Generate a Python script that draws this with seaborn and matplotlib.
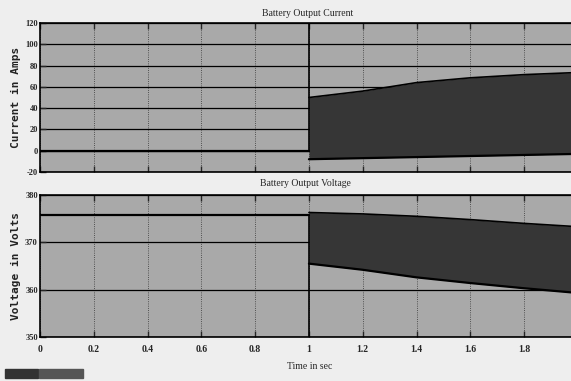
import numpy as np
import pandas as pd
import matplotlib.pyplot as plt
import seaborn as sns
from matplotlib.patches import Rectangle

# values
time_flat = [0.0, 1.0]
current_flat = [0.0, 0.0]
voltage_flat = [375.8, 375.8]

# switching spike at t = 1 s
spike_time = [1.0, 1.0]
current_spike = [0.0, 125.0]
voltage_spike = [375.8, 345.0]

# envelope of the fast oscillation after t = 1 s
band_time = [1.0, 1.2, 1.4, 1.6, 1.8, 2.0]
current_upper = [50.0, 56.0, 64.0, 68.5, 71.5, 73.5]
current_lower = [-8.0, -7.0, -6.0, -5.0, -4.0, -3.0]
voltage_upper = [376.3, 376.0, 375.5, 374.8, 374.0, 373.3]
voltage_lower = [365.5, 364.2, 362.6, 361.4, 360.3, 359.3]

x_ticks = [0, 0.2, 0.4, 0.6, 0.8, 1, 1.2, 1.4, 1.6, 1.8]
x_tick_labels = ['0', '0.2', '0.4', '0.6', '0.8', '1', '1.2', '1.4', '1.6', '1.8']
current_ticks = [-20, 0, 20, 40, 60, 80, 100, 120]
voltage_ticks = [350, 360, 370, 380]

sns.set_style('white')
plt.rcParams['font.family'] = ['Liberation Serif', 'DejaVu Serif']

fig = plt.figure(figsize=(5.71, 3.81), dpi=100, facecolor='#eeeeee')
ax1 = fig.add_axes([0.070, 0.5486, 0.935, 0.391])
ax2 = fig.add_axes([0.070, 0.1155, 0.935, 0.3727])

face = '#a9a9a9'
band = '#363636'


def draw(ax, flat, spike, upper, lower, ticks, ylim, ylabel):
    ax.set_facecolor(face)
    ax.fill_between(band_time, lower, upper, color=band, lw=0, zorder=3)
    sns.lineplot(x=band_time, y=upper, ax=ax, color='black', lw=1.2, zorder=4)
    sns.lineplot(x=band_time, y=lower, ax=ax, color='black', lw=1.6, zorder=4)
    sns.lineplot(x=time_flat, y=flat, ax=ax, color='black', lw=1.6, zorder=4)
    ax.plot(spike_time, spike, color='black', lw=1.2, zorder=4)
    ax.set_xlim(0, 1.985)
    ax.set_ylim(*ylim)
    ax.set_yticks(ticks)
    ax.set_yticklabels([str(t) for t in ticks], fontsize=6, fontweight='bold')
    ax.set_xticks(x_ticks)
    ax.grid(axis='y', color='black', lw=0.9, ls='-')
    ax.grid(axis='x', color='#333333', lw=0.6, ls=':')
    ax.set_axisbelow(True)
    ax.tick_params(axis='both', direction='in', length=4, width=1, pad=1.5,
                   left=True, bottom=True, top=True, right=False)
    for s in ax.spines.values():
        s.set_color('black')
        s.set_linewidth(1.2)
    ax.set_ylabel(ylabel, fontsize=8, fontweight='bold', family='DejaVu Sans Mono',
                  color='#222222')
    ax.yaxis.set_label_coords(-0.036, 0.5)


draw(ax1, current_flat, current_spike, current_upper, current_lower,
     current_ticks, (-20, 120), 'Current in Amps')
draw(ax2, voltage_flat, voltage_spike, voltage_upper, voltage_lower,
     voltage_ticks, (350, 380), 'Voltage in Volts')

ax1.set_xticklabels([])
ax2.set_xticklabels(x_tick_labels, fontsize=7, fontweight='bold')
ax2.tick_params(axis='x', pad=6)

fig.text(0.538, 0.965, 'Battery Output Current', fontsize=7, ha='center', va='center')
fig.text(0.535, 0.518, 'Battery Output Voltage', fontsize=7, ha='center', va='center')
fig.text(0.543, 0.037, 'Time in sec', fontsize=7, ha='center', va='center')

# status bar boxes bottom left
fig.patches.append(Rectangle((5 / 571, 3 / 381), 33 / 571, 9 / 381,
                             transform=fig.transFigure, color='#333333'))
fig.patches.append(Rectangle((39 / 571, 3 / 381), 44 / 571, 9 / 381,
                             transform=fig.transFigure, color='#555555'))

fig.savefig('out.png', dpi=100, facecolor=fig.get_facecolor())
